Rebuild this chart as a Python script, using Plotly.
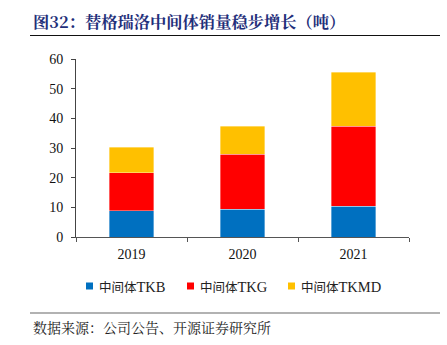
import plotly.graph_objects as go

years = ["2019", "2020", "2021"]
tkb = [8.8, 9.3, 10.4]
tkg = [12.8, 18.6, 27.0]
tkmd = [8.6, 9.5, 18.1]

series_names = ["中间体TKB", "中间体TKG", "中间体TKMD"]
series_colors = ["#0070C0", "#FF0000", "#FFC000"]
y_ticks = [0, 10, 20, 30, 40, 50, 60]

W, H = 447, 345
L, R, T, B = 76, 38, 59, 108
pw, ph = W - L - R, H - T - B


def px_x(x):
    return (x - L) / pw


def px_y(y):
    return (H - B - y) / ph


fig = go.Figure()
for name, vals, col in zip(series_names, [tkb, tkg, tkmd], series_colors):
    fig.add_trace(go.Bar(
        x=years, y=vals, name=name,
        marker=dict(color=col, line=dict(color="rgba(255,255,255,0.6)", width=0.6)),
        width=0.4,
    ))

fig.update_layout(
    width=W, height=H,
    margin=dict(l=L, r=R, t=T, b=B),
    barmode="stack",
    plot_bgcolor="white", paper_bgcolor="white",
    showlegend=False,
    font=dict(family="Liberation Serif, Noto Sans CJK SC", size=13, color="#111"),
)

fig.update_yaxes(
    range=[0, 60], tickvals=y_ticks, showgrid=False, zeroline=False,
    showline=True, linecolor="#444", linewidth=1,
    ticks="outside", ticklen=4, tickcolor="#444", ticklabelstandoff=5,
    tickfont=dict(family="Liberation Serif", size=14, color="#111"),
)
fig.update_xaxes(
    showgrid=False, showline=True, linecolor="#555", linewidth=1,
    ticks="outside", ticklen=4, tickcolor="#555", tickson="boundaries",
    ticklabelstandoff=4,
    tickfont=dict(family="Liberation Serif", size=14, color="#111"),
)

# Legend row below the axis: colour swatch + series label
legend_left = [86, 187, 288]
legend_y = 286
for name, col, lx in zip(series_names, series_colors, legend_left):
    fig.add_shape(type="rect", xref="paper", yref="paper",
                  x0=px_x(lx), x1=px_x(lx + 7),
                  y0=px_y(legend_y + 3.5), y1=px_y(legend_y - 3.5),
                  fillcolor=col, line=dict(width=0))
    cjk, latin = name[:3], name[3:]
    fig.add_annotation(
        text=(f"<span style='font-family:Noto Sans CJK SC;font-size:12.5px'>{cjk}</span>"
              f"<span style='font-family:Liberation Serif;font-size:14.5px'>{latin}</span>"),
        xref="paper", yref="paper", x=px_x(lx + 11), y=px_y(legend_y),
        xanchor="left", yanchor="middle", showarrow=False,
        font=dict(color="#222", size=14),
    )

# Heading and its rule
fig.add_annotation(
    text="<b>图32：替格瑞洛中间体销量稳步增长（吨）</b>",
    xref="paper", yref="paper", x=px_x(31), y=px_y(21),
    xanchor="left", yanchor="middle", showarrow=False,
    font=dict(family="Noto Serif CJK SC, Noto Sans CJK SC", size=16.3, color="#1F2F7A"),
)
fig.add_shape(type="line", xref="paper", yref="paper",
              x0=px_x(30), x1=px_x(440), y0=px_y(35.5), y1=px_y(35.5),
              line=dict(color="#111", width=1.2))

# Footer rule and source note
fig.add_shape(type="line", xref="paper", yref="paper",
              x0=px_x(30), x1=px_x(440), y0=px_y(313), y1=px_y(313),
              line=dict(color="#999", width=1.5))
fig.add_annotation(
    text="数据来源：公司公告、开源证券研究所",
    xref="paper", yref="paper", x=px_x(31), y=px_y(327),
    xanchor="left", yanchor="middle", showarrow=False,
    font=dict(family="Noto Serif CJK SC, Noto Sans CJK SC", size=14, color="#222"),
)

fig.write_html("out.html")
